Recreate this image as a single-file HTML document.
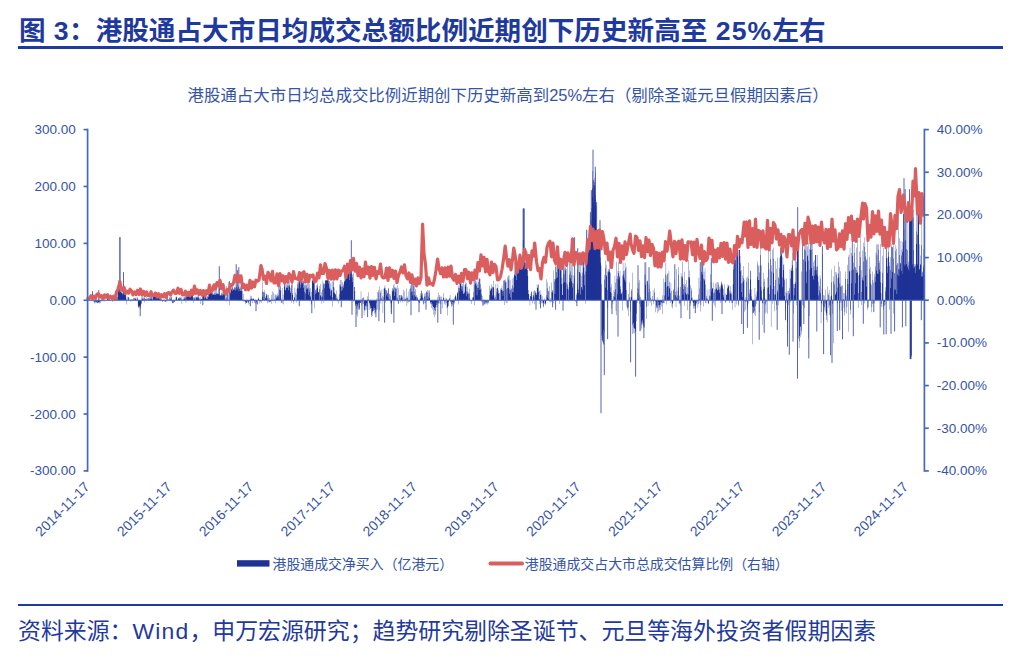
<!DOCTYPE html>
<html lang="zh-CN"><head><meta charset="utf-8"><title>图 3</title>
<style>
html,body{margin:0;padding:0;background:#fff;}
body{width:1024px;height:658px;position:relative;overflow:hidden;font-family:"Liberation Sans","Noto Sans CJK SC",sans-serif;}
.title{position:absolute;left:19px;top:11px;font-size:26.6px;font-weight:bold;color:#1f3a9e;white-space:nowrap;line-height:40px;letter-spacing:0px;}
.rule{position:absolute;left:18px;width:985px;background:#1f3a9e;}
.sub{position:absolute;left:187.5px;top:84.2px;font-size:16.45px;color:#3454a8;white-space:nowrap;line-height:22px;letter-spacing:0;}
.leg{position:absolute;top:552.7px;font-size:13.9px;color:#3454a8;white-space:nowrap;line-height:22px;}
.foot{position:absolute;left:18px;top:613px;font-size:22.9px;color:#1f3a9e;white-space:nowrap;line-height:36px;}
</style></head><body>
<div class="title">图<span style="letter-spacing:0.65px"> 3</span>：港股通占大市日均成交总额比例近期创下历史新高至<span style="letter-spacing:1.1px"> 25%</span>左右</div>
<div class="rule" style="top:46.4px;height:2.8px"></div>
<div class="sub">港股通占大市日均总成交比例近期创下历史新高到25%左右（剔除圣诞元旦假期因素后）</div>
<svg width="1024" height="658" viewBox="0 0 1024 658" style="position:absolute;left:0;top:0">
<path d="M88.00 300.2V300.2H88.34V300.0H88.67V299.3H89.01V300.8H89.35V299.7H89.69V300.7H90.02V300.7H90.36V300.3H90.70V300.1H91.04V299.9H91.37V299.5H91.71V299.9H92.05V299.1H92.38V300.5H92.72V299.3H93.06V300.3H93.40V301.9H93.73V299.9H94.07V301.4H94.41V302.4H94.75V303.7H95.08V302.7H95.42V301.2H95.76V301.8H96.09V302.8H96.43V301.4H96.77V302.7H97.11V301.3H97.44V302.9H97.78V303.3H98.12V302.4H98.46V302.6H98.79V302.7H99.13V303.4H99.47V301.7H99.80V301.1H100.14V303.0H100.48V300.7H100.82V301.8H101.15V299.7H101.49V301.0H101.83V301.2H102.16V300.8H102.50V301.0H102.84V301.1H103.18V300.8H103.51V301.1H103.85V301.8H104.19V298.8H104.53V300.3H104.86V300.2H105.20V299.9H105.54V301.2H105.87V300.9H106.21V300.4H106.55V300.2H106.89V299.4H107.22V297.0H107.56V298.3H107.90V297.6H108.24V297.4H108.57V300.5H108.91V298.7H109.25V300.9H109.58V299.2H109.92V300.3H110.26V300.1H110.60V300.6H110.93V300.2H111.27V301.1H111.61V299.2H111.95V301.1H112.28V301.7H112.62V300.5H112.96V299.8H113.29V300.6H113.63V298.5H113.97V300.7H114.31V300.8H114.64V299.1H114.98V300.6H115.32V300.5H115.66V300.2H115.99V297.2H116.33V297.5H116.67V300.9H117.00V297.1H117.34V300.1H117.68V291.8H118.02V285.0H118.35V288.4H118.69V280.4H119.03V288.4H119.37V292.6H119.70V281.1H120.04V288.3H120.38V292.2H120.71V292.1H121.05V290.5H121.39V292.5H121.73V293.0H122.06V293.8H122.40V292.2H122.74V294.5H123.07V292.9H123.41V294.6H123.75V292.3H124.09V290.7H124.42V292.7H124.76V294.4H125.10V293.2H125.44V292.6H125.77V293.4H126.11V304.4H126.45V298.5H126.78V300.8H127.12V300.3H127.46V296.5H127.80V300.3H128.13V297.5H128.47V296.7H128.81V297.2H129.15V300.2H129.48V300.4H129.82V300.4H130.16V298.9H130.49V301.5H130.83V301.2H131.17V300.3H131.51V299.1H131.84V300.4H132.18V300.6H132.52V299.1H132.86V300.5H133.19V298.1H133.53V299.8H133.87V297.6H134.20V298.3H134.54V299.9H134.88V298.6H135.22V297.7H135.55V298.9H135.89V297.6H136.23V300.9H136.57V299.4H136.90V299.7H137.24V298.4H137.58V297.1H137.91V305.7H138.25V306.2H138.59V307.0H138.93V307.6H139.26V305.7H139.60V306.0H139.94V305.5H140.28V306.8H140.61V308.9H140.95V303.6H141.29V294.6H141.62V303.9H141.96V299.0H142.30V298.6H142.64V295.0H142.97V298.8H143.31V297.3H143.65V301.1H143.98V302.6H144.32V297.8H144.66V297.4H145.00V298.7H145.33V299.6H145.67V299.0H146.01V300.5H146.35V297.0H146.68V299.3H147.02V300.3H147.36V299.0H147.69V298.1H148.03V298.5H148.37V297.9H148.71V300.8H149.04V298.8H149.38V295.3H149.72V299.8H150.06V299.1H150.39V297.3H150.73V295.9H151.07V295.7H151.40V299.0H151.74V296.2H152.08V300.3H152.42V298.7H152.75V295.5H153.09V297.1H153.43V294.8H153.77V293.7H154.10V293.7H154.44V293.7H154.78V296.4H155.11V294.7H155.45V297.0H155.79V295.4H156.13V296.1H156.46V294.8H156.80V293.7H157.14V293.7H157.48V295.3H157.81V297.3H158.15V293.8H158.49V295.7H158.82V294.3H159.16V293.7H159.50V297.6H159.84V298.1H160.17V300.7H160.51V294.8H160.85V296.7H161.19V298.8H161.52V300.7H161.86V299.9H162.20V302.1H162.53V301.4H162.87V300.7H163.21V300.7H163.55V301.1H163.88V298.6H164.22V301.6H164.56V300.5H164.89V301.6H165.23V302.2H165.57V300.5H165.91V302.1H166.24V297.9H166.58V300.8H166.92V294.7H167.26V300.7H167.59V297.2H167.93V300.2H168.27V300.3H168.60V299.2H168.94V298.6H169.28V300.6H169.62V296.7H169.95V299.7H170.29V298.4H170.63V296.6H170.97V296.3H171.30V301.5H171.64V297.3H171.98V300.5H172.31V303.1H172.65V303.6H172.99V303.0H173.33V302.4H173.66V301.0H174.00V302.1H174.34V301.9H174.68V300.9H175.01V297.6H175.35V300.4H175.69V300.4H176.02V296.3H176.36V297.1H176.70V297.5H177.04V299.6H177.37V300.4H177.71V300.4H178.05V298.1H178.39V298.9H178.72V298.0H179.06V297.5H179.40V299.3H179.73V297.3H180.07V297.8H180.41V300.3H180.75V296.8H181.08V297.3H181.42V299.6H181.76V303.9H182.09V300.2H182.43V299.8H182.77V299.1H183.11V298.8H183.44V300.1H183.78V296.8H184.12V297.6H184.46V298.9H184.79V295.6H185.13V293.5H185.47V298.0H185.80V302.7H186.14V294.6H186.48V293.4H186.82V296.5H187.15V293.4H187.49V294.6H187.83V295.2H188.17V295.7H188.50V294.7H188.84V295.7H189.18V294.6H189.51V293.4H189.85V295.6H190.19V297.0H190.53V294.8H190.86V293.4H191.20V293.4H191.54V296.3H191.88V293.4H192.21V295.6H192.55V293.6H192.89V297.9H193.22V302.8H193.56V297.1H193.90V299.6H194.24V298.0H194.57V296.5H194.91V299.4H195.25V300.4H195.59V296.7H195.92V297.2H196.26V296.4H196.60V297.7H196.93V296.9H197.27V295.7H197.61V298.3H197.95V298.5H198.28V296.8H198.62V295.0H198.96V297.4H199.30V300.3H199.63V298.7H199.97V299.1H200.31V304.0H200.64V297.3H200.98V299.6H201.32V299.0H201.66V298.4H201.99V299.0H202.33V295.8H202.67V296.7H203.01V293.3H203.34V293.3H203.68V295.3H204.02V296.6H204.35V297.2H204.69V299.3H205.03V296.3H205.37V295.5H205.70V293.9H206.04V297.3H206.38V298.5H206.71V299.1H207.05V299.0H207.39V296.4H207.73V296.1H208.06V293.2H208.40V297.1H208.74V292.2H209.08V294.1H209.41V293.2H209.75V294.0H210.09V292.9H210.42V286.5H210.76V287.3H211.10V290.4H211.44V292.7H211.77V293.4H212.11V295.0H212.45V293.0H212.79V290.1H213.12V294.5H213.46V293.7H213.80V294.7H214.13V294.7H214.47V289.9H214.81V293.0H215.15V285.9H215.48V294.8H215.82V294.6H216.16V289.7H216.50V294.1H216.83V292.8H217.17V294.2H217.51V293.3H217.84V293.4H218.18V294.3H218.52V286.7H218.86V294.3H219.19V288.2H219.53V295.4H219.87V295.4H220.21V295.3H220.54V295.5H220.88V294.4H221.22V295.3H221.55V292.8H221.89V289.2H222.23V295.7H222.57V293.7H222.90V293.6H223.24V292.9H223.58V295.0H223.91V294.0H224.25V292.2H224.59V294.4H224.93V300.3H225.26V298.7H225.60V290.7H225.94V301.7H226.28V297.3H226.61V285.9H226.95V300.4H227.29V293.4H227.62V288.3H227.96V300.6H228.30V282.0H228.64V299.7H228.97V281.2H229.31V280.7H229.65V305.0H229.99V292.0H230.32V290.3H230.66V293.5H231.00V289.0H231.33V290.1H231.67V287.6H232.01V287.1H232.35V287.5H232.68V290.9H233.02V290.1H233.36V288.4H233.70V289.2H234.03V287.5H234.37V289.7H234.71V286.9H235.04V290.7H235.38V288.4H235.72V287.6H236.06V286.5H236.39V289.9H236.73V287.1H237.07V288.6H237.41V288.4H237.74V290.5H238.08V287.1H238.42V291.6H238.75V286.5H239.09V288.8H239.43V288.7H239.77V291.0H240.10V286.5H240.44V291.1H240.78V287.4H241.12V287.8H241.45V291.0H241.79V284.5H242.13V290.9H242.46V299.5H242.80V301.1H243.14V293.9H243.48V300.0H243.81V301.9H244.15V299.9H244.49V300.8H244.82V301.6H245.16V302.3H245.50V304.2H245.84V301.5H246.17V303.2H246.51V302.7H246.85V303.1H247.19V300.7H247.52V301.8H247.86V301.1H248.20V303.5H248.53V302.3H248.87V304.8H249.21V301.0H249.55V300.9H249.88V300.9H250.22V295.6H250.56V299.2H250.90V298.5H251.23V296.1H251.57V298.9H251.91V298.1H252.24V299.0H252.58V303.3H252.92V298.9H253.26V298.5H253.59V298.6H253.93V300.9H254.27V302.9H254.61V301.6H254.94V299.5H255.28V301.0H255.62V303.6H255.95V300.4H256.29V301.8H256.63V303.5H256.97V304.8H257.30V304.2H257.64V300.3H257.98V298.4H258.32V298.8H258.65V297.3H258.99V299.9H259.33V303.4H259.66V300.8H260.00V301.3H260.34V301.5H260.68V301.3H261.01V302.9H261.35V300.4H261.69V300.6H262.03V291.3H262.36V281.3H262.70V296.7H263.04V299.6H263.37V291.9H263.71V292.1H264.05V292.4H264.39V300.8H264.72V289.8H265.06V298.0H265.40V298.5H265.73V296.2H266.07V295.5H266.41V293.8H266.75V294.1H267.08V298.0H267.42V303.2H267.76V295.3H268.10V294.8H268.43V301.4H268.77V302.4H269.11V297.9H269.44V302.2H269.78V302.2H270.12V301.4H270.46V301.4H270.79V301.1H271.13V294.8H271.47V303.8H271.81V298.7H272.14V291.4H272.48V300.8H272.82V300.5H273.15V299.9H273.49V292.6H273.83V301.6H274.17V298.7H274.50V300.2H274.84V294.1H275.18V303.3H275.52V295.2H275.85V298.8H276.19V295.0H276.53V296.7H276.86V298.2H277.20V295.8H277.54V293.4H277.88V296.7H278.21V282.8H278.55V295.3H278.89V299.2H279.23V283.5H279.56V289.5H279.90V283.1H280.24V290.6H280.57V286.4H280.91V303.0H281.25V298.5H281.59V302.8H281.92V288.1H282.26V303.4H282.60V300.5H282.94V294.5H283.27V300.7H283.61V304.4H283.95V281.0H284.28V286.7H284.62V281.0H284.96V284.1H285.30V290.3H285.63V290.3H285.97V287.9H286.31V284.0H286.64V287.2H286.98V285.7H287.32V288.1H287.66V282.6H287.99V283.0H288.33V290.3H288.67V285.8H289.01V280.9H289.34V286.8H289.68V285.1H290.02V291.4H290.35V293.1H290.69V287.8H291.03V285.2H291.37V302.8H291.70V284.0H292.04V295.0H292.38V280.8H292.72V292.9H293.05V300.5H293.39V301.8H293.73V303.9H294.06V297.7H294.40V297.1H294.74V287.8H295.08V300.4H295.41V292.5H295.75V300.8H296.09V294.6H296.43V302.4H296.76V288.9H297.10V287.8H297.44V282.2H297.77V284.5H298.11V288.6H298.45V280.7H298.79V282.4H299.12V280.7H299.46V280.7H299.80V280.7H300.14V280.9H300.47V287.7H300.81V284.6H301.15V280.7H301.48V280.7H301.82V280.7H302.16V283.5H302.50V282.6H302.83V280.9H303.17V280.7H303.51V287.7H303.85V280.7H304.18V285.5H304.52V291.8H304.86V299.7H305.19V293.4H305.53V284.8H305.87V283.2H306.21V289.6H306.54V285.3H306.88V288.1H307.22V289.0H307.56V280.6H307.89V287.8H308.23V280.6H308.57V294.8H308.90V289.5H309.24V283.7H309.58V292.1H309.92V297.3H310.25V296.1H310.59V287.9H310.93V304.6H311.26V292.0H311.60V303.8H311.94V280.5H312.28V280.5H312.61V280.5H312.95V280.5H313.29V280.5H313.63V280.5H313.96V280.5H314.30V280.5H314.64V308.5H314.97V290.5H315.31V294.0H315.65V289.6H315.99V288.7H316.32V285.2H316.66V292.7H317.00V287.7H317.34V283.3H317.67V285.8H318.01V292.1H318.35V292.6H318.68V291.9H319.02V300.1H319.36V288.9H319.70V286.0H320.03V295.5H320.37V284.0H320.71V295.4H321.05V292.3H321.38V297.1H321.72V303.7H322.06V296.5H322.39V289.8H322.73V280.4H323.07V284.5H323.41V282.8H323.74V302.8H324.08V288.2H324.42V283.5H324.76V284.2H325.09V280.4H325.43V280.3H325.77V280.3H326.10V280.3H326.44V280.3H326.78V280.3H327.12V280.3H327.45V280.3H327.79V280.3H328.13V283.6H328.46V280.3H328.80V280.3H329.14V281.0H329.48V287.8H329.81V289.1H330.15V295.4H330.49V283.4H330.83V290.8H331.16V290.4H331.50V289.4H331.84V281.4H332.17V297.1H332.51V306.7H332.85V280.2H333.19V281.4H333.52V287.0H333.86V292.2H334.20V287.5H334.54V293.2H334.87V293.6H335.21V294.5H335.55V294.0H335.88V299.9H336.22V298.3H336.56V290.4H336.90V296.5H337.23V298.7H337.57V301.3H337.91V300.7H338.25V303.4H338.58V300.8H338.92V294.1H339.26V299.0H339.59V284.6H339.93V280.1H340.27V284.7H340.61V286.3H340.94V280.1H341.28V286.7H341.62V290.8H341.96V290.2H342.29V286.6H342.63V282.1H342.97V283.7H343.30V287.9H343.64V285.8H343.98V280.9H344.32V282.0H344.65V271.6H344.99V280.6H345.33V271.4H345.67V268.2H346.00V278.9H346.34V266.3H346.68V276.4H347.01V275.3H347.35V271.5H347.69V266.3H348.03V266.3H348.36V266.9H348.70V266.3H349.04V280.0H349.37V267.6H349.71V272.4H350.05V277.1H350.39V266.3H350.72V277.3H351.06V273.2H351.40V278.8H351.74V274.1H352.07V274.6H352.41V277.5H352.75V282.1H353.08V272.7H353.42V299.8H353.76V302.0H354.10V286.8H354.43V287.1H354.77V291.0H355.11V305.3H355.45V306.0H355.78V304.0H356.12V308.6H356.46V304.1H356.79V314.6H357.13V306.4H357.47V316.4H357.81V304.5H358.14V309.8H358.48V302.9H358.82V309.2H359.16V310.1H359.49V308.2H359.83V302.2H360.17V302.9H360.50V302.9H360.84V291.2H361.18V299.5H361.52V305.4H361.85V301.9H362.19V303.6H362.53V297.9H362.87V298.0H363.20V297.0H363.54V303.9H363.88V315.3H364.21V309.8H364.55V310.8H364.89V305.5H365.23V305.7H365.56V310.6H365.90V306.5H366.24V303.2H366.58V309.8H366.91V306.3H367.25V296.3H367.59V301.2H367.92V301.4H368.26V299.4H368.60V292.2H368.94V310.2H369.27V303.4H369.61V302.8H369.95V305.6H370.28V308.0H370.62V309.1H370.96V308.0H371.30V317.0H371.63V315.0H371.97V312.5H372.31V311.2H372.65V315.9H372.98V310.4H373.32V311.1H373.66V307.6H373.99V307.9H374.33V313.6H374.67V310.1H375.01V311.9H375.34V308.7H375.68V313.8H376.02V310.3H376.36V303.3H376.69V298.5H377.03V309.6H377.37V292.1H377.70V300.5H378.04V301.4H378.38V289.9H378.72V292.6H379.05V310.6H379.39V286.3H379.73V299.4H380.07V292.7H380.40V290.7H380.74V303.8H381.08V300.3H381.41V298.1H381.75V289.3H382.09V299.7H382.43V295.7H382.76V313.1H383.10V296.8H383.44V300.1H383.78V288.4H384.11V288.6H384.45V287.6H384.79V285.3H385.12V302.8H385.46V288.3H385.80V289.9H386.14V295.4H386.47V290.3H386.81V290.8H387.15V293.4H387.49V292.7H387.82V296.9H388.16V287.9H388.50V288.7H388.83V299.5H389.17V294.1H389.51V299.6H389.85V293.9H390.18V295.7H390.52V303.2H390.86V312.6H391.19V307.4H391.53V303.6H391.87V290.4H392.21V291.6H392.54V288.0H392.88V288.7H393.22V285.3H393.56V290.6H393.89V283.4H394.23V295.9H394.57V287.4H394.90V291.9H395.24V287.4H395.58V288.5H395.92V287.6H396.25V300.1H396.59V289.1H396.93V297.5H397.27V285.6H397.60V301.3H397.94V303.4H398.28V303.9H398.61V288.2H398.95V300.6H399.29V294.9H399.63V295.3H399.96V302.5H400.30V298.5H400.64V294.9H400.98V295.6H401.31V294.8H401.65V297.3H401.99V297.7H402.32V302.4H402.66V295.8H403.00V289.7H403.34V299.7H403.67V301.0H404.01V301.7H404.35V299.3H404.69V291.3H405.02V301.1H405.36V298.9H405.70V297.5H406.03V298.2H406.37V288.4H406.71V305.9H407.05V298.1H407.38V296.4H407.72V302.9H408.06V302.5H408.40V299.9H408.73V291.6H409.07V301.4H409.41V301.8H409.74V288.9H410.08V285.6H410.42V288.3H410.76V299.7H411.09V283.1H411.43V291.7H411.77V283.1H412.10V283.8H412.44V291.8H412.78V295.6H413.12V286.2H413.45V284.9H413.79V299.1H414.13V295.0H414.47V283.1H414.80V291.3H415.14V296.7H415.48V289.0H415.81V296.4H416.15V295.0H416.49V299.8H416.83V296.7H417.16V298.3H417.50V297.5H417.84V301.1H418.18V301.2H418.51V302.4H418.85V300.6H419.19V303.0H419.52V303.1H419.86V298.3H420.20V299.1H420.54V293.2H420.87V295.8H421.21V290.6H421.55V291.1H421.89V294.5H422.22V297.5H422.56V292.9H422.90V303.7H423.23V297.7H423.57V304.5H423.91V303.6H424.25V296.8H424.58V293.8H424.92V296.0H425.26V303.0H425.60V293.1H425.93V300.8H426.27V291.8H426.61V291.3H426.94V292.4H427.28V290.0H427.62V299.3H427.96V296.2H428.29V299.5H428.63V290.4H428.97V292.6H429.31V290.3H429.64V297.9H429.98V302.1H430.32V303.1H430.65V304.2H430.99V302.1H431.33V304.0H431.67V307.9H432.00V303.7H432.34V305.9H432.68V309.7H433.01V307.0H433.35V307.3H433.69V314.4H434.03V309.9H434.36V317.0H434.70V308.0H435.04V310.8H435.38V314.6H435.71V306.7H436.05V305.0H436.39V307.4H436.72V302.3H437.06V303.6H437.40V296.8H437.74V306.8H438.07V303.4H438.41V292.7H438.75V303.2H439.09V296.9H439.42V294.9H439.76V303.8H440.10V300.7H440.43V296.4H440.77V304.1H441.11V299.8H441.45V296.4H441.78V300.4H442.12V308.2H442.46V301.1H442.80V301.1H443.13V293.1H443.47V297.6H443.81V298.1H444.14V301.6H444.48V304.2H444.82V301.5H445.16V304.8H445.49V300.7H445.83V297.7H446.17V298.6H446.51V303.2H446.84V308.3H447.18V315.6H447.52V307.2H447.85V306.4H448.19V306.0H448.53V302.3H448.87V300.7H449.20V297.8H449.54V298.7H449.88V294.9H450.22V301.6H450.55V302.4H450.89V299.9H451.23V306.9H451.56V304.3H451.90V305.9H452.24V301.9H452.58V304.4H452.91V298.9H453.25V302.9H453.59V301.7H453.92V304.6H454.26V297.5H454.60V302.8H454.94V296.6H455.27V295.8H455.61V294.5H455.95V296.7H456.29V300.1H456.62V299.5H456.96V292.8H457.30V292.1H457.63V293.7H457.97V288.1H458.31V285.5H458.65V304.6H458.98V291.3H459.32V278.6H459.66V288.1H460.00V278.6H460.33V278.6H460.67V283.8H461.01V289.6H461.34V285.9H461.68V278.5H462.02V286.4H462.36V284.1H462.69V291.0H463.03V293.5H463.37V278.4H463.71V294.0H464.04V293.3H464.38V291.7H464.72V285.3H465.05V284.1H465.39V282.2H465.73V286.4H466.07V296.2H466.40V283.0H466.74V291.6H467.08V286.9H467.42V293.7H467.75V291.6H468.09V294.1H468.43V292.5H468.76V299.5H469.10V293.4H469.44V288.7H469.78V298.1H470.11V300.7H470.45V301.3H470.79V300.4H471.13V303.9H471.46V300.5H471.80V301.3H472.14V300.7H472.47V297.0H472.81V297.9H473.15V292.0H473.49V297.1H473.82V277.9H474.16V305.3H474.50V277.9H474.83V284.8H475.17V283.5H475.51V277.9H475.85V280.8H476.18V285.7H476.52V282.7H476.86V295.2H477.20V284.2H477.53V288.1H477.87V277.8H478.21V287.8H478.54V282.1H478.88V289.9H479.22V279.3H479.56V277.7H479.89V278.8H480.23V284.3H480.57V289.5H480.91V302.3H481.24V288.6H481.58V294.2H481.92V295.9H482.25V300.4H482.59V301.9H482.93V301.0H483.27V304.9H483.60V299.8H483.94V303.8H484.28V304.6H484.62V300.7H484.95V304.6H485.29V301.3H485.63V303.1H485.96V304.1H486.30V302.4H486.64V301.4H486.98V304.4H487.31V300.4H487.65V303.0H487.99V300.4H488.33V302.3H488.66V303.2H489.00V300.1H489.34V295.0H489.67V286.0H490.01V288.6H490.35V290.2H490.69V291.0H491.02V289.1H491.36V284.3H491.70V288.1H492.04V286.5H492.37V295.6H492.71V287.2H493.05V287.8H493.38V280.8H493.72V287.0H494.06V298.1H494.40V295.2H494.73V300.9H495.07V296.8H495.41V299.7H495.74V283.8H496.08V288.4H496.42V299.5H496.76V292.5H497.09V288.1H497.43V288.2H497.77V283.5H498.11V290.2H498.44V294.0H498.78V292.9H499.12V292.9H499.45V301.1H499.79V300.4H500.13V288.6H500.47V300.8H500.80V290.3H501.14V290.1H501.48V287.9H501.82V285.4H502.15V291.3H502.49V289.5H502.83V295.7H503.16V290.9H503.50V280.8H503.84V280.2H504.18V280.1H504.51V305.1H504.85V281.3H505.19V282.6H505.53V279.2H505.86V303.0H506.20V282.0H506.54V289.2H506.87V303.3H507.21V287.9H507.55V276.7H507.89V287.9H508.22V275.8H508.56V279.6H508.90V275.0H509.24V293.8H509.57V289.2H509.91V280.3H510.25V297.2H510.58V289.9H510.92V288.1H511.26V300.6H511.60V289.2H511.93V278.6H512.27V292.1H512.61V285.2H512.95V292.5H513.28V287.6H513.62V277.4H513.96V275.4H514.29V262.5H514.63V274.6H514.97V268.1H515.31V262.5H515.64V275.9H515.98V280.0H516.32V266.3H516.65V262.5H516.99V262.5H517.33V262.5H517.67V262.5H518.00V267.6H518.34V273.3H518.68V262.5H519.02V262.5H519.35V262.5H519.69V262.5H520.03V269.7H520.36V262.5H520.70V262.5H521.04V262.5H521.38V262.5H521.71V262.5H522.05V262.5H522.39V262.5H522.73V262.5H523.06V262.5H523.40V266.3H523.74V262.5H524.07V270.1H524.41V262.5H524.75V262.5H525.09V269.0H525.42V262.5H525.76V262.5H526.10V262.5H526.44V262.5H526.77V262.5H527.11V269.8H527.45V269.5H527.78V276.0H528.12V289.9H528.46V294.0H528.80V294.3H529.13V298.4H529.47V300.4H529.81V305.3H530.15V296.0H530.48V296.0H530.82V293.4H531.16V291.9H531.49V291.1H531.83V297.0H532.17V300.9H532.51V303.4H532.84V295.0H533.18V295.6H533.52V291.3H533.86V297.3H534.19V304.3H534.53V289.9H534.87V291.3H535.20V291.6H535.54V292.9H535.88V294.8H536.22V293.1H536.55V295.1H536.89V284.5H537.23V287.9H537.57V287.4H537.90V284.4H538.24V284.4H538.58V291.9H538.91V299.0H539.25V290.9H539.59V304.3H539.93V289.9H540.26V294.3H540.60V295.0H540.94V300.4H541.27V294.6H541.61V303.2H541.95V296.3H542.29V303.4H542.62V301.6H542.96V303.0H543.30V306.5H543.64V307.2H543.97V301.1H544.31V304.0H544.65V298.3H544.98V303.8H545.32V303.2H545.66V305.3H546.00V301.3H546.33V295.3H546.67V279.2H547.01V282.5H547.35V288.3H547.68V297.5H548.02V299.1H548.36V291.3H548.69V290.8H549.03V302.1H549.37V286.1H549.71V300.2H550.04V302.5H550.38V297.9H550.72V300.0H551.06V301.8H551.39V282.5H551.73V291.9H552.07V290.0H552.40V292.3H552.74V290.4H553.08V300.4H553.42V270.7H553.75V303.4H554.09V279.0H554.43V281.4H554.77V293.8H555.10V279.3H555.44V266.8H555.78V259.6H556.11V278.2H556.45V272.0H556.79V265.9H557.13V277.4H557.46V264.7H557.80V258.7H558.14V262.2H558.47V268.9H558.81V258.6H559.15V304.0H559.49V258.5H559.82V258.5H560.16V258.7H560.50V269.9H560.84V270.5H561.17V267.4H561.51V284.2H561.85V277.7H562.18V294.9H562.52V294.9H562.86V283.3H563.20V269.3H563.53V258.0H563.87V274.2H564.21V257.9H564.55V282.2H564.88V268.6H565.22V266.4H565.56V270.5H565.89V282.7H566.23V300.5H566.57V268.9H566.91V288.9H567.24V257.5H567.58V284.6H567.92V287.2H568.26V301.5H568.59V289.8H568.93V282.3H569.27V257.5H569.60V274.7H569.94V261.8H570.28V278.2H570.62V271.6H570.95V257.5H571.29V275.2H571.63V281.3H571.97V262.9H572.30V283.1H572.64V287.4H572.98V275.3H573.31V300.5H573.65V283.4H573.99V300.8H574.33V278.8H574.66V275.8H575.00V300.6H575.34V300.6H575.68V302.1H576.01V295.0H576.35V303.0H576.69V293.2H577.02V270.1H577.36V284.2H577.70V289.8H578.04V289.6H578.37V257.5H578.71V293.0H579.05V272.1H579.38V271.9H579.72V261.2H580.06V294.4H580.40V273.5H580.73V257.5H581.07V287.6H581.41V287.1H581.75V276.0H582.08V289.8H582.42V272.6H582.76V262.5H583.09V257.5H583.43V260.4H583.77V267.7H584.11V274.4H584.44V285.2H584.78V260.7H585.12V303.7H585.46V252.9H585.79V271.4H586.13V229.8H586.47V229.8H586.80V243.9H587.14V238.5H587.48V243.2H587.82V229.8H588.15V252.5H588.49V249.9H588.83V233.7H589.17V229.8H589.50V229.8H589.84V229.8H590.18V229.8H590.51V229.8H590.85V219.7H591.19V229.8H591.53V207.7H591.86V190.3H592.20V196.5H592.54V170.9H592.88V198.1H593.21V204.1H593.55V202.1H593.89V216.5H594.22V178.0H594.56V182.2H594.90V194.8H595.24V172.7H595.57V199.5H595.91V205.9H596.25V229.8H596.59V229.8H596.92V229.8H597.26V229.8H597.60V229.8H597.93V229.8H598.27V229.8H598.61V229.8H598.95V231.5H599.28V236.6H599.62V241.7H599.96V250.1H600.30V257.2H600.63V263.0H600.97V265.4H601.31V284.2H601.64V335.7H601.98V333.4H602.32V337.6H602.66V341.0H602.99V344.6H603.33V344.3H603.67V329.4H604.00V331.8H604.34V275.0H604.68V279.4H605.02V260.4H605.35V287.7H605.69V268.1H606.03V276.5H606.37V275.1H606.70V264.7H607.04V271.5H607.38V290.0H607.71V307.9H608.05V272.3H608.39V269.0H608.73V270.7H609.06V269.5H609.40V260.9H609.74V272.1H610.08V272.8H610.41V291.9H610.75V287.4H611.09V284.3H611.42V308.4H611.76V293.3H612.10V300.6H612.44V301.9H612.77V304.2H613.11V295.9H613.45V300.3H613.79V289.9H614.12V297.0H614.46V291.9H614.80V275.8H615.13V282.5H615.47V289.2H615.81V310.9H616.15V261.6H616.48V315.3H616.82V279.1H617.16V276.2H617.50V294.2H617.83V270.9H618.17V261.9H618.51V272.9H618.84V279.2H619.18V275.6H619.52V277.0H619.86V270.8H620.19V286.2H620.53V289.0H620.87V294.3H621.21V293.7H621.54V293.0H621.88V291.8H622.22V310.4H622.55V275.8H622.89V262.4H623.23V271.1H623.57V274.6H623.90V277.4H624.24V270.7H624.58V279.8H624.91V263.0H625.25V281.7H625.59V268.4H625.93V266.7H626.26V306.6H626.60V289.9H626.94V300.4H627.28V307.9H627.61V310.2H627.95V307.4H628.29V294.1H628.62V316.2H628.96V297.1H629.30V282.4H629.64V301.6H629.97V301.6H630.31V297.2H630.65V311.5H630.99V297.1H631.32V290.8H631.66V289.1H632.00V272.8H632.33V334.0H632.67V324.8H633.01V322.9H633.35V332.9H633.68V327.4H634.02V328.9H634.36V327.9H634.70V333.5H635.03V329.2H635.37V331.1H635.71V332.0H636.04V321.2H636.38V313.8H636.72V301.3H637.06V287.9H637.39V303.0H637.73V292.9H638.07V289.1H638.41V298.4H638.74V282.8H639.08V280.1H639.42V303.9H639.75V295.3H640.09V297.0H640.43V306.7H640.77V330.4H641.10V328.4H641.44V324.4H641.78V321.4H642.12V323.2H642.45V319.8H642.79V325.5H643.13V326.2H643.46V323.5H643.80V327.7H644.14V327.4H644.48V262.3H644.81V274.6H645.15V262.2H645.49V284.7H645.82V262.2H646.16V319.1H646.50V306.9H646.84V281.8H647.17V280.6H647.51V281.0H647.85V306.0H648.19V292.4H648.52V300.8H648.86V284.5H649.20V300.2H649.53V288.7H649.87V303.3H650.21V297.8H650.55V291.2H650.88V301.1H651.22V299.4H651.56V306.1H651.90V301.1H652.23V295.9H652.57V300.5H652.91V290.3H653.24V304.2H653.58V301.4H653.92V300.8H654.26V288.5H654.59V292.6H654.93V301.4H655.27V312.2H655.61V300.9H655.94V305.2H656.28V308.5H656.62V307.3H656.95V297.2H657.29V313.2H657.63V307.5H657.97V301.9H658.30V305.2H658.64V311.4H658.98V310.2H659.32V307.8H659.65V305.0H659.99V310.0H660.33V301.6H660.66V304.8H661.00V302.4H661.34V302.3H661.68V306.5H662.01V314.1H662.35V303.3H662.69V295.3H663.02V303.2H663.36V303.1H663.70V278.4H664.04V303.3H664.37V282.2H664.71V295.4H665.05V281.9H665.39V274.6H665.72V262.5H666.06V304.5H666.40V275.8H666.73V287.3H667.07V274.1H667.41V285.9H667.75V273.3H668.08V296.8H668.42V286.1H668.76V270.8H669.10V281.7H669.43V287.8H669.77V288.8H670.11V292.9H670.44V302.9H670.78V283.0H671.12V301.6H671.46V290.9H671.79V307.0H672.13V303.9H672.47V308.4H672.81V302.9H673.14V290.4H673.48V289.0H673.82V299.8H674.15V300.3H674.49V279.5H674.83V295.1H675.17V292.0H675.50V295.3H675.84V307.2H676.18V297.2H676.52V268.9H676.85V291.1H677.19V299.0H677.53V295.5H677.86V287.4H678.20V267.0H678.54V274.8H678.88V303.6H679.21V303.6H679.55V295.5H679.89V305.5H680.23V302.9H680.56V287.0H680.90V273.3H681.24V299.7H681.57V276.7H681.91V276.0H682.25V278.1H682.59V261.7H682.92V294.5H683.26V288.9H683.60V284.0H683.93V285.5H684.27V271.6H684.61V305.8H684.95V286.8H685.28V292.8H685.62V284.0H685.96V294.1H686.30V280.0H686.63V294.9H686.97V293.6H687.31V310.3H687.64V287.3H687.98V294.5H688.32V277.1H688.66V260.0H688.99V278.4H689.33V276.9H689.67V270.6H690.01V285.3H690.34V305.7H690.68V303.3H691.02V287.7H691.35V290.4H691.69V298.0H692.03V301.2H692.37V297.5H692.70V302.0H693.04V308.7H693.38V302.9H693.72V306.1H694.05V301.8H694.39V306.0H694.73V308.3H695.06V305.4H695.40V308.8H695.74V305.6H696.08V302.9H696.41V300.7H696.75V304.2H697.09V301.5H697.43V299.8H697.76V307.8H698.10V303.9H698.44V294.7H698.77V277.8H699.11V299.1H699.45V288.6H699.79V302.9H700.12V281.0H700.46V311.4H700.80V305.2H701.14V261.0H701.47V272.1H701.81V258.5H702.15V274.5H702.48V264.6H702.82V258.4H703.16V306.5H703.50V278.4H703.83V271.8H704.17V280.5H704.51V279.2H704.85V268.2H705.18V284.5H705.52V302.9H705.86V303.3H706.19V298.2H706.53V295.7H706.87V289.7H707.21V300.0H707.54V298.3H707.88V303.1H708.22V303.6H708.55V304.3H708.89V289.0H709.23V295.4H709.57V300.6H709.90V296.2H710.24V300.5H710.58V274.2H710.92V282.6H711.25V289.9H711.59V292.1H711.93V288.7H712.26V287.9H712.60V288.2H712.94V282.6H713.28V303.2H713.61V293.3H713.95V305.4H714.29V292.4H714.63V289.3H714.96V283.6H715.30V307.4H715.64V289.5H715.97V282.2H716.31V287.8H716.65V289.1H716.99V290.6H717.32V289.9H717.66V282.0H718.00V289.6H718.34V282.5H718.67V284.8H719.01V293.1H719.35V286.7H719.68V289.6H720.02V302.8H720.36V285.7H720.70V288.4H721.03V282.5H721.37V281.5H721.71V284.4H722.05V283.7H722.38V285.6H722.72V287.6H723.06V295.1H723.39V289.2H723.73V297.3H724.07V300.3H724.41V284.3H724.74V300.4H725.08V302.7H725.42V293.6H725.75V302.4H726.09V295.1H726.43V294.8H726.77V294.4H727.10V288.5H727.44V287.7H727.78V284.6H728.12V286.8H728.45V285.4H728.79V285.3H729.13V290.8H729.46V303.0H729.80V293.4H730.14V293.4H730.48V285.9H730.81V291.2H731.15V294.2H731.49V302.9H731.83V292.7H732.16V303.1H732.50V309.7H732.84V284.4H733.17V265.3H733.51V269.5H733.85V249.9H734.19V249.9H734.52V254.6H734.86V307.6H735.20V260.3H735.54V249.9H735.87V249.9H736.21V249.9H736.55V304.5H736.88V249.9H737.22V249.9H737.56V249.9H737.90V249.9H738.23V306.2H738.57V304.5H738.91V249.9H739.25V249.9H739.58V249.9H739.92V255.7H740.26V271.2H740.59V263.2H740.93V283.4H741.27V291.9H741.61V269.9H741.94V282.7H742.28V297.2H742.62V275.4H742.96V281.2H743.29V266.1H743.63V278.1H743.97V279.8H744.30V311.8H744.64V301.1H744.98V301.9H745.32V297.3H745.65V309.9H745.99V301.8H746.33V277.8H746.67V281.8H747.00V305.7H747.34V308.4H747.68V276.5H748.01V303.4H748.35V278.7H748.69V262.8H749.03V301.2H749.36V293.4H749.70V289.5H750.04V271.1H750.37V279.6H750.71V270.4H751.05V289.4H751.39V298.8H751.72V296.2H752.06V306.5H752.40V344.2H752.74V313.2H753.07V313.0H753.41V312.4H753.75V307.3H754.08V311.2H754.42V314.3H754.76V287.9H755.10V316.0H755.43V306.2H755.77V294.3H756.11V296.7H756.45V303.9H756.78V291.6H757.12V261.2H757.46V276.8H757.79V264.6H758.13V280.0H758.47V266.2H758.81V279.9H759.14V312.3H759.48V272.5H759.82V265.5H760.16V247.4H760.49V254.9H760.83V286.8H761.17V265.3H761.50V290.5H761.84V298.1H762.18V303.1H762.52V324.8H762.85V303.7H763.19V272.8H763.53V288.9H763.87V281.4H764.20V287.1H764.54V278.9H764.88V313.5H765.21V298.7H765.55V304.4H765.89V312.6H766.23V302.1H766.56V300.2H766.90V288.3H767.24V277.4H767.57V313.8H767.91V287.2H768.25V250.3H768.59V262.7H768.92V269.2H769.26V294.0H769.60V301.6H769.94V285.4H770.27V259.1H770.61V247.4H770.95V327.0H771.28V271.5H771.62V265.2H771.96V288.9H772.30V303.7H772.63V249.6H772.97V247.4H773.31V272.8H773.65V258.4H773.98V285.9H774.32V294.5H774.66V311.3H774.99V280.1H775.33V294.6H775.67V261.1H776.01V268.8H776.34V304.9H776.68V310.1H777.02V257.5H777.36V290.2H777.69V292.6H778.03V305.6H778.37V276.9H778.70V278.2H779.04V284.2H779.38V267.9H779.72V258.0H780.05V247.4H780.39V256.2H780.73V247.4H781.07V253.6H781.40V247.4H781.74V255.4H782.08V287.3H782.41V277.6H782.75V257.2H783.09V264.8H783.43V270.1H783.76V264.3H784.10V295.8H784.44V280.2H784.78V278.3H785.11V310.0H785.45V300.2H785.79V292.3H786.12V278.8H786.46V302.9H786.80V293.0H787.14V322.1H787.47V332.9H787.81V291.1H788.15V305.1H788.49V290.7H788.82V294.6H789.16V293.4H789.50V288.2H789.83V268.8H790.17V278.5H790.51V302.4H790.85V270.6H791.18V270.8H791.52V268.0H791.86V260.2H792.19V253.1H792.53V265.2H792.87V270.7H793.21V284.3H793.54V313.5H793.88V295.2H794.22V287.9H794.56V284.0H794.89V282.1H795.23V251.4H795.57V283.8H795.90V268.0H796.24V305.2H796.58V261.6H796.92V242.4H797.25V242.4H797.59V242.4H797.93V242.4H798.27V242.4H798.60V338.4H798.94V348.1H799.28V336.1H799.61V341.3H799.95V326.4H800.29V337.3H800.63V326.8H800.96V334.6H801.30V330.7H801.64V271.4H801.98V242.4H802.31V245.3H802.65V305.0H802.99V260.0H803.32V306.3H803.66V259.1H804.00V249.4H804.34V308.0H804.67V242.4H805.01V242.4H805.35V261.4H805.69V250.4H806.02V283.2H806.36V271.5H806.70V242.4H807.03V246.3H807.37V256.3H807.71V255.2H808.05V260.6H808.38V338.5H808.72V242.4H809.06V249.3H809.39V315.9H809.73V269.7H810.07V249.8H810.41V242.4H810.74V242.4H811.08V268.0H811.42V242.4H811.76V249.7H812.09V275.8H812.43V242.4H812.77V276.1H813.10V279.4H813.44V262.0H813.78V266.6H814.12V275.5H814.45V260.3H814.79V270.3H815.13V255.0H815.47V254.9H815.80V254.9H816.14V266.8H816.48V270.0H816.81V274.4H817.15V266.4H817.49V254.9H817.83V276.5H818.16V295.6H818.50V281.8H818.84V301.1H819.18V286.1H819.51V290.5H819.85V275.2H820.19V278.4H820.52V293.2H820.86V323.3H821.20V312.1H821.54V303.6H821.87V288.7H822.21V254.9H822.55V300.3H822.89V305.9H823.22V320.5H823.56V295.1H823.90V309.6H824.23V295.6H824.57V306.9H824.91V311.4H825.25V289.5H825.58V303.4H825.92V312.9H826.26V315.2H826.60V320.1H826.93V322.6H827.27V300.6H827.61V286.6H827.94V293.2H828.28V295.1H828.62V307.7H828.96V290.0H829.29V315.1H829.63V305.4H829.97V296.4H830.31V304.4H830.64V316.4H830.98V295.8H831.32V282.3H831.65V269.5H831.99V303.9H832.33V299.2H832.67V314.0H833.00V281.5H833.34V343.3H833.68V276.6H834.01V300.2H834.35V265.8H834.69V284.5H835.03V294.2H835.36V294.4H835.70V271.7H836.04V274.8H836.38V291.9H836.71V272.6H837.05V303.3H837.39V287.4H837.72V278.2H838.06V273.6H838.40V261.7H838.74V277.6H839.07V309.4H839.41V266.7H839.75V283.2H840.09V286.7H840.42V271.2H840.76V302.9H841.10V310.8H841.43V286.3H841.77V285.2H842.11V285.4H842.45V301.7H842.78V299.6H843.12V299.1H843.46V293.0H843.80V307.8H844.13V315.4H844.47V293.2H844.81V312.3H845.14V271.6H845.48V279.0H845.82V289.8H846.16V295.8H846.49V313.4H846.83V307.0H847.17V279.0H847.51V264.8H847.84V284.0H848.18V331.7H848.52V256.8H848.85V254.7H849.19V270.8H849.53V271.4H849.87V247.8H850.20V314.6H850.54V309.8H850.88V270.4H851.22V283.3H851.55V253.0H851.89V238.8H852.23V255.7H852.56V239.1H852.90V318.0H853.24V269.4H853.58V262.5H853.91V244.1H854.25V294.7H854.59V252.7H854.92V266.8H855.26V283.2H855.60V267.4H855.94V270.0H856.27V247.5H856.61V273.0H856.95V273.1H857.29V271.9H857.62V239.8H857.96V308.0H858.30V293.1H858.63V275.4H858.97V274.7H859.31V251.4H859.65V265.9H859.98V237.3H860.32V301.3H860.66V257.3H861.00V270.3H861.33V292.1H861.67V305.0H862.01V277.6H862.34V279.9H862.68V250.6H863.02V280.8H863.36V242.7H863.69V261.6H864.03V303.5H864.37V246.8H864.71V237.3H865.04V256.5H865.38V252.0H865.72V275.3H866.05V286.4H866.39V260.4H866.73V259.0H867.07V242.1H867.40V309.7H867.74V307.5H868.08V300.6H868.42V307.3H868.75V299.3H869.09V256.8H869.43V269.2H869.76V301.2H870.10V267.1H870.44V273.9H870.78V283.3H871.11V312.2H871.45V285.1H871.79V307.1H872.12V304.1H872.46V271.6H872.80V279.9H873.14V303.2H873.47V282.7H873.81V301.2H874.15V273.9H874.49V303.6H874.82V276.8H875.16V266.4H875.50V281.9H875.83V252.6H876.17V270.4H876.51V244.5H876.85V254.9H877.18V273.4H877.52V244.3H877.86V273.9H878.20V249.6H878.53V244.2H878.87V263.1H879.21V260.7H879.54V269.5H879.88V271.8H880.22V244.0H880.56V282.2H880.89V293.2H881.23V304.0H881.57V307.1H881.91V283.3H882.24V272.8H882.58V255.8H882.92V306.4H883.25V248.0H883.59V309.5H883.93V301.3H884.27V302.1H884.60V305.9H884.94V304.8H885.28V291.2H885.62V287.3H885.95V248.3H886.29V257.7H886.63V243.3H886.96V266.6H887.30V258.2H887.64V273.1H887.98V251.9H888.31V243.1H888.65V256.7H888.99V262.2H889.33V266.0H889.66V309.6H890.00V288.0H890.34V270.0H890.67V257.0H891.01V278.6H891.35V246.9H891.69V243.7H892.02V271.9H892.36V247.2H892.70V247.0H893.03V258.5H893.37V313.4H893.71V245.2H894.05V272.9H894.38V289.4H894.72V273.3H895.06V289.8H895.40V251.2H895.73V244.7H896.07V248.7H896.41V265.2H896.74V293.9H897.08V263.1H897.42V274.6H897.76V263.6H898.09V211.9H898.43V268.9H898.77V276.0H899.11V238.1H899.44V255.0H899.78V269.6H900.12V263.1H900.45V263.4H900.79V241.0H901.13V255.5H901.47V271.0H901.80V249.6H902.14V241.8H902.48V252.0H902.82V273.8H903.15V242.6H903.49V245.8H903.83V229.8H904.16V264.0H904.50V265.9H904.84V240.3H905.18V265.3H905.51V240.4H905.85V209.7H906.19V264.1H906.53V248.9H906.86V216.3H907.20V250.3H907.54V267.2H907.87V265.3H908.21V269.4H908.55V261.7H908.89V209.7H909.22V210.4H909.56V271.5H909.90V209.7H910.24V209.7H910.57V209.7H910.91V209.7H911.25V209.7H911.58V209.7H911.92V209.7H912.26V209.7H912.60V264.2H912.93V268.3H913.27V209.7H913.61V249.9H913.95V266.1H914.28V267.6H914.62V264.0H914.96V272.7H915.29V265.9H915.63V264.0H915.97V231.6H916.31V243.9H916.64V209.7H916.98V264.6H917.32V234.8H917.65V209.7H917.99V209.7H918.33V210.4H918.67V209.7H919.00V244.2H919.34V269.7H919.68V268.8H920.02V255.6H920.35V264.5H920.69V264.4H921.03V245.0H921.36V276.5H921.70V219.0H922.04V271.4H922.38V276.6H922.71V272.5H923.05V249.0H923.39V265.6H923.73V267.6H924.06V284.2H924.40V300.2Z" fill="#1e3296" stroke="none"/>
<path d="M119.90 300.2v-63.0M123.50 300.2v-28.0M92.50 300.2v-9.0M98.80 300.2v-10.0M219.30 300.2v-34.0M236.20 300.2v-36.0M238.80 300.2v-33.0M237.40 300.2v-30.0M351.30 300.2v-60.0M351.00 300.2v-40.0M350.50 300.2v-32.0M523.70 300.2v-92.0M523.40 300.2v-60.0M574.60 300.2v-63.0M577.70 300.2v-52.0M593.00 300.2v-150.5M593.30 300.2v-120.0M595.30 300.2v-133.5M594.00 300.2v-115.0M594.60 300.2v-114.0M592.70 300.2v-112.0M591.30 300.2v-110.0M590.40 300.2v-88.0M596.60 300.2v-98.0M600.00 300.2v-80.0M797.70 300.2v-93.0M822.40 300.2v-54.0M904.00 300.2v-122.0M905.20 300.2v-111.0M909.50 300.2v-111.0M903.60 300.2v-86.0M913.00 300.2v-83.0M638.00 300.2v-35.0M649.00 300.2v-33.0M674.80 300.2v-36.0M700.30 300.2v-38.0M711.30 300.2v-42.0M140.20 300.2v16.0M138.90 300.2v7.5M256.00 300.2v11.0M311.80 300.2v13.0M202.80 300.2v5.0M250.40 300.2v6.0M299.30 300.2v6.0M341.30 300.2v7.0M352.00 300.2v14.5M356.00 300.2v26.8M362.00 300.2v18.0M367.60 300.2v17.0M375.90 300.2v17.0M378.90 300.2v21.0M384.60 300.2v22.5M393.90 300.2v22.5M391.40 300.2v14.0M411.00 300.2v15.0M419.00 300.2v12.0M426.00 300.2v9.5M437.80 300.2v22.5M440.80 300.2v13.8M453.30 300.2v24.5M482.90 300.2v5.5M536.00 300.2v9.5M540.50 300.2v8.0M552.60 300.2v7.0M555.60 300.2v9.5M563.00 300.2v10.5M576.90 300.2v6.0M601.00 300.2v113.0M604.30 300.2v75.0M603.00 300.2v42.0M602.30 300.2v40.0M607.60 300.2v38.9M612.00 300.2v13.8M618.00 300.2v36.4M630.60 300.2v62.2M635.60 300.2v76.5M640.00 300.2v31.0M643.90 300.2v38.0M681.00 300.2v18.0M689.80 300.2v18.8M695.30 300.2v13.0M712.30 300.2v20.6M722.00 300.2v13.8M741.70 300.2v23.8M743.40 300.2v33.8M747.40 300.2v27.6M759.20 300.2v39.6M764.20 300.2v32.6M777.20 300.2v29.6M785.50 300.2v20.0M789.30 300.2v54.6M787.50 300.2v46.4M793.00 300.2v41.4M797.50 300.2v78.5M803.80 300.2v23.8M808.80 300.2v58.2M816.80 300.2v31.3M823.60 300.2v53.9M830.60 300.2v55.0M832.00 300.2v62.7M837.30 300.2v30.8M839.70 300.2v30.0M842.50 300.2v39.0M853.30 300.2v36.0M863.30 300.2v23.6M873.80 300.2v12.0M880.20 300.2v27.2M883.80 300.2v34.4M886.20 300.2v34.0M891.00 300.2v33.7M894.60 300.2v31.3M902.40 300.2v27.2M905.80 300.2v26.0M910.50 300.2v59.0M910.90 300.2v57.0M911.30 300.2v55.0M921.30 300.2v20.0" stroke="#1e3296" stroke-width="0.75" fill="none"/>
<rect x="522.4" y="208.6" width="2.6" height="70" fill="#1e3296" opacity="0.5"/>
<rect x="909.4" y="300" width="2.4" height="59" fill="#1e3296" opacity="0.5"/>
<rect x="119.3" y="237.2" width="1.3" height="50" fill="#1e3296" opacity="0.45"/>
<line x1="88" x2="924.4" y1="300.3" y2="300.3" stroke="#4668be" stroke-width="1.1"/>
<path d="M88.0,298.4 89.5,298.5 91.0,295.8 92.5,298.9 94.0,296.2 95.5,298.5 97.0,294.3 98.5,293.8 100.0,297.0 101.5,295.6 103.0,299.0 104.5,294.8 106.0,297.3 107.5,294.7 109.0,298.2 110.5,296.3 112.0,298.6 113.5,296.3 115.0,299.0 116.5,291.8 118.0,289.4 119.9,281.5 121.0,288.1 122.5,290.5 124.0,287.3 125.5,293.5 127.0,291.1 128.5,293.3 130.0,289.2 131.5,290.9 133.0,294.9 134.5,291.9 136.0,294.5 137.5,290.3 139.0,294.5 140.5,289.0 142.0,294.5 143.5,291.3 145.0,295.7 146.5,291.9 148.0,295.7 149.5,295.7 151.0,291.7 152.5,295.7 154.0,295.5 155.5,293.0 157.0,296.9 158.5,293.6 160.0,297.6 161.5,294.6 163.0,296.9 164.5,293.7 166.0,297.4 167.5,293.0 169.0,292.6 170.5,295.0 172.0,291.9 173.5,290.1 175.0,293.4 176.5,293.4 178.0,288.2 179.5,293.3 181.0,289.3 182.5,294.8 184.0,294.7 185.5,291.2 187.0,295.5 188.5,292.3 190.0,295.9 191.5,290.2 193.0,294.4 194.5,286.1 196.0,293.4 197.5,290.0 199.0,294.4 200.5,290.4 202.0,295.2 203.5,290.6 205.0,296.0 206.5,290.7 208.0,293.6 209.5,285.2 211.0,292.0 212.5,290.3 214.0,284.9 215.5,288.9 217.0,282.6 218.5,285.7 220.0,280.2 221.5,288.7 223.0,284.6 224.5,292.4 226.0,294.0 227.5,289.3 229.0,291.2 230.5,284.6 232.0,285.4 233.5,283.0 235.0,275.3 236.5,281.4 238.0,275.0 239.5,281.7 241.0,275.9 242.5,287.6 244.0,284.5 245.5,289.7 247.0,285.2 248.5,289.8 250.0,280.3 251.5,288.1 253.0,282.0 254.5,286.8 256.0,280.2 257.5,281.2 259.0,280.0 261.0,265.5 262.0,268.8 263.5,279.3 265.0,276.2 266.5,283.5 268.0,272.3 269.5,275.3 271.0,280.9 272.5,271.4 274.0,283.0 275.5,282.8 277.0,273.9 278.5,285.6 280.0,273.6 281.5,281.0 283.0,275.7 284.5,282.9 286.0,276.6 287.5,282.2 289.0,273.6 290.5,275.9 292.0,282.1 293.5,271.5 295.0,278.3 296.5,278.3 298.0,279.6 299.5,272.5 301.0,281.3 302.5,273.0 304.0,271.8 305.5,281.9 307.0,274.4 308.5,281.8 310.0,275.3 311.5,276.4 313.0,274.9 314.5,282.0 316.0,281.2 317.5,273.2 319.0,277.9 320.5,264.8 322.0,273.5 323.5,273.4 325.0,263.5 326.5,268.2 328.0,278.5 329.5,270.4 331.0,279.1 332.5,270.1 334.0,279.1 335.5,269.8 337.0,278.8 338.5,270.2 340.0,275.4 341.5,270.9 343.0,270.7 344.5,266.2 346.0,277.2 347.5,264.2 349.0,272.8 350.5,260.5 352.0,269.9 353.5,258.4 355.0,271.1 356.5,263.4 358.0,275.7 359.5,267.1 361.0,277.9 362.5,269.1 364.0,276.6 365.5,262.0 367.0,273.7 368.5,267.1 370.0,278.1 371.5,266.5 373.0,275.5 374.5,267.4 376.0,278.9 377.5,271.7 379.0,273.3 380.5,264.0 382.0,276.5 383.5,278.0 385.0,277.5 386.5,268.1 388.0,280.4 389.5,267.8 391.0,276.4 392.5,270.3 394.0,278.4 395.5,271.0 397.0,282.7 398.5,275.5 400.0,271.9 401.5,267.0 403.0,272.9 404.5,264.9 406.0,275.7 407.5,278.9 409.0,273.0 410.5,282.5 412.0,274.9 413.5,283.8 415.0,279.1 416.5,285.9 418.0,277.9 419.5,283.4 421.0,277.6 422.6,224.0 424.0,253.6 425.5,264.5 427.0,285.1 428.5,277.8 430.0,283.9 431.5,283.5 433.0,285.2 434.5,279.2 436.0,270.3 437.6,259.0 439.0,268.2 440.5,273.7 442.0,267.9 443.5,276.9 445.0,267.8 446.5,277.0 448.0,267.0 449.5,276.2 451.0,266.0 452.5,277.8 454.0,280.2 455.5,274.3 457.0,283.4 458.5,276.0 460.0,282.4 461.5,273.3 463.0,281.3 464.5,269.6 466.0,269.7 467.5,278.6 469.0,272.2 470.5,283.1 472.0,272.9 473.5,279.5 475.0,270.2 476.5,278.3 478.0,262.5 479.5,270.9 481.0,254.8 482.5,265.9 484.0,257.3 485.5,271.8 487.0,259.3 488.5,271.6 490.0,274.8 491.5,262.0 493.0,272.5 494.5,264.4 496.0,266.5 497.5,279.8 499.0,279.6 500.5,276.4 502.0,269.5 503.5,259.6 505.2,246.0 506.5,257.3 508.0,266.2 509.5,259.7 511.0,269.8 512.5,259.4 513.8,248.0 515.5,257.7 517.0,272.3 518.5,267.3 520.0,255.1 521.5,268.1 523.0,261.6 524.5,249.2 526.0,253.1 527.5,267.4 529.0,255.5 530.5,269.7 532.0,250.9 533.5,256.2 534.7,243.0 536.5,261.5 538.0,270.6 539.5,268.4 541.0,278.8 542.5,262.5 544.0,257.3 545.5,262.3 547.0,247.6 548.5,243.1 550.0,241.3 551.5,256.8 553.0,243.2 554.5,260.3 556.0,263.8 557.5,246.9 559.0,267.3 560.5,259.0 562.0,268.7 563.5,260.5 565.0,252.3 566.5,265.3 568.0,252.9 569.5,260.6 571.0,261.9 572.5,238.8 574.0,264.8 575.5,252.3 577.0,253.2 578.5,263.7 580.0,253.8 581.5,264.0 583.0,252.8 584.5,254.3 586.0,263.6 587.5,239.9 589.0,248.9 590.5,226.4 592.0,240.5 593.0,229.0 595.0,248.6 596.5,231.4 598.0,247.8 599.6,230.0 601.0,249.0 602.5,231.5 604.0,239.6 605.5,253.4 607.0,243.1 608.5,259.9 610.0,252.1 611.5,267.7 613.0,250.4 614.5,246.5 616.0,238.2 617.5,256.8 619.0,243.4 620.5,262.5 622.0,245.9 623.5,258.8 625.0,241.8 626.5,254.5 628.0,245.6 630.2,234.0 631.0,243.6 632.5,249.6 634.0,253.3 635.5,236.0 637.0,237.4 638.5,250.3 640.0,240.8 641.5,256.6 643.0,245.8 644.5,257.6 646.0,237.5 647.5,251.7 649.0,240.2 650.5,255.6 652.0,244.4 653.5,248.1 655.0,265.9 656.5,252.4 658.0,267.1 659.5,253.3 661.0,267.0 662.5,252.0 664.0,260.9 665.5,241.7 667.0,251.1 668.5,242.6 669.7,231.0 671.5,245.3 673.0,256.8 674.5,241.4 676.0,253.6 677.5,242.6 679.0,241.1 680.5,259.1 682.0,239.9 683.5,259.0 685.0,245.7 686.5,260.4 688.0,241.8 689.5,242.5 691.0,242.0 692.5,254.6 694.0,242.0 695.5,260.9 697.0,239.4 698.5,251.3 700.0,258.4 701.5,245.1 703.0,264.2 704.5,251.7 706.0,260.7 707.5,258.4 709.0,238.0 710.5,253.9 712.0,240.3 713.5,262.0 715.0,250.1 716.5,261.6 718.0,248.5 719.5,257.9 721.0,243.4 722.5,256.3 724.0,242.5 725.5,259.1 727.0,243.2 728.5,262.4 730.0,249.2 731.5,261.5 733.0,262.9 734.5,245.7 736.0,255.6 737.5,236.4 739.0,246.9 740.5,239.6 742.0,242.8 744.2,222.0 745.0,235.9 746.5,222.2 748.0,247.5 749.5,220.8 751.0,244.4 752.5,228.7 754.0,246.6 755.5,219.0 757.0,247.4 758.5,230.4 760.0,231.6 761.5,247.2 763.0,230.8 764.5,247.2 766.0,248.8 767.5,220.3 769.0,250.0 770.5,228.3 772.0,242.9 773.5,222.7 775.0,225.0 776.5,239.0 778.0,229.9 779.5,244.8 781.0,234.3 782.5,251.9 784.0,236.7 785.5,240.4 787.0,256.8 788.5,234.5 790.0,234.8 791.5,245.8 793.0,230.2 794.5,259.1 796.0,237.9 797.5,249.8 799.0,234.2 800.5,231.1 802.0,229.4 803.5,244.6 805.0,223.4 806.5,243.3 808.0,217.2 809.5,223.2 811.0,243.3 812.5,226.1 814.0,242.5 815.5,225.7 817.0,241.9 818.5,227.1 820.0,245.3 821.5,222.2 823.0,238.5 824.5,242.9 826.0,229.3 827.5,248.5 829.0,229.6 830.5,246.7 832.0,219.0 833.5,241.1 835.0,229.8 836.5,249.9 838.0,248.4 839.5,233.8 841.0,246.5 842.5,230.8 844.0,249.1 845.5,223.7 847.0,239.3 848.5,217.5 850.0,232.4 851.5,216.2 853.0,240.3 854.5,221.6 856.0,241.4 857.5,219.2 859.0,236.3 860.5,220.2 862.6,203.0 863.5,219.0 865.0,203.7 866.5,208.0 868.0,240.4 869.5,225.3 871.0,237.2 872.5,211.5 874.0,233.8 875.5,215.9 877.0,231.4 878.5,211.0 880.0,234.2 881.5,220.0 883.0,245.3 884.5,227.3 886.0,247.7 887.5,232.3 889.0,246.0 890.5,213.5 892.0,226.0 893.5,243.3 895.0,215.4 896.5,228.7 898.0,196.1 899.5,189.6 901.0,212.5 902.5,205.5 903.3,195.0 905.5,212.0 907.0,221.3 908.5,202.6 910.0,220.0 911.5,217.8 913.0,181.1 914.5,196.0 915.5,168.5 917.5,214.0 919.0,192.7 920.5,223.1 922.0,193.5 923.5,215.1" stroke="#db5e5e" stroke-width="3.2" fill="none" stroke-linejoin="round" stroke-linecap="round"/>
<g stroke="#4668be" stroke-width="1.7" fill="none">
<line x1="87.6" x2="87.6" y1="128.7" y2="471.79999999999995"/>
<line x1="924.4" x2="924.4" y1="128.7" y2="471.79999999999995"/>
<line x1="83.6" x2="87.6" y1="129.60" y2="129.60"/>
<line x1="83.6" x2="87.6" y1="186.48" y2="186.48"/>
<line x1="83.6" x2="87.6" y1="243.37" y2="243.37"/>
<line x1="83.6" x2="87.6" y1="300.25" y2="300.25"/>
<line x1="83.6" x2="87.6" y1="357.13" y2="357.13"/>
<line x1="83.6" x2="87.6" y1="414.02" y2="414.02"/>
<line x1="83.6" x2="87.6" y1="470.90" y2="470.90"/>
<line x1="924.4" x2="928.8" y1="129.60" y2="129.60"/>
<line x1="924.4" x2="928.8" y1="172.26" y2="172.26"/>
<line x1="924.4" x2="928.8" y1="214.92" y2="214.92"/>
<line x1="924.4" x2="928.8" y1="257.59" y2="257.59"/>
<line x1="924.4" x2="928.8" y1="300.25" y2="300.25"/>
<line x1="924.4" x2="928.8" y1="342.91" y2="342.91"/>
<line x1="924.4" x2="928.8" y1="385.57" y2="385.57"/>
<line x1="924.4" x2="928.8" y1="428.24" y2="428.24"/>
<line x1="924.4" x2="928.8" y1="470.90" y2="470.90"/>
</g>
<g font-family="'Liberation Sans', sans-serif" font-size="13.5" fill="#3454a8">
<text x="75.8" y="134.10" text-anchor="end">300.00</text>
<text x="75.8" y="190.98" text-anchor="end">200.00</text>
<text x="75.8" y="247.87" text-anchor="end">100.00</text>
<text x="75.8" y="304.75" text-anchor="end">0.00</text>
<text x="75.8" y="361.63" text-anchor="end">-100.00</text>
<text x="75.8" y="418.52" text-anchor="end">-200.00</text>
<text x="75.8" y="475.40" text-anchor="end">-300.00</text>
<text x="936.8" y="134.10">40.00%</text>
<text x="936.8" y="176.76">30.00%</text>
<text x="936.8" y="219.42">20.00%</text>
<text x="936.8" y="262.09">10.00%</text>
<text x="936.8" y="304.75">0.00%</text>
<text x="936.8" y="347.41">-10.00%</text>
<text x="936.8" y="390.07">-20.00%</text>
<text x="936.8" y="432.74">-30.00%</text>
<text x="936.8" y="475.40">-40.00%</text>
<text x="90.6" y="487.8" font-size="13.9" text-anchor="end" transform="rotate(-45 90.6 487.8)">2014-11-17</text>
<text x="172.4" y="487.8" font-size="13.9" text-anchor="end" transform="rotate(-45 172.4 487.8)">2015-11-17</text>
<text x="254.3" y="487.8" font-size="13.9" text-anchor="end" transform="rotate(-45 254.3 487.8)">2016-11-17</text>
<text x="336.1" y="487.8" font-size="13.9" text-anchor="end" transform="rotate(-45 336.1 487.8)">2017-11-17</text>
<text x="418.0" y="487.8" font-size="13.9" text-anchor="end" transform="rotate(-45 418.0 487.8)">2018-11-17</text>
<text x="499.8" y="487.8" font-size="13.9" text-anchor="end" transform="rotate(-45 499.8 487.8)">2019-11-17</text>
<text x="581.6" y="487.8" font-size="13.9" text-anchor="end" transform="rotate(-45 581.6 487.8)">2020-11-17</text>
<text x="663.5" y="487.8" font-size="13.9" text-anchor="end" transform="rotate(-45 663.5 487.8)">2021-11-17</text>
<text x="745.3" y="487.8" font-size="13.9" text-anchor="end" transform="rotate(-45 745.3 487.8)">2022-11-17</text>
<text x="827.2" y="487.8" font-size="13.9" text-anchor="end" transform="rotate(-45 827.2 487.8)">2023-11-17</text>
<text x="909.0" y="487.8" font-size="13.9" text-anchor="end" transform="rotate(-45 909.0 487.8)">2024-11-17</text>
</g>
<rect x="237" y="560.2" width="32.5" height="6.4" fill="#1e3296"/>
<line x1="490.5" x2="522" y1="563.4" y2="563.4" stroke="#db5e5e" stroke-width="4" stroke-linecap="round"/>
</svg>
<div class="leg" style="left:272.5px">港股通成交净买入（亿港元）</div>
<div class="leg" style="left:524.8px">港股通成交占大市总成交估算比例（右轴）</div>
<div class="rule" style="top:604px;height:2px"></div>
<div class="foot">资料来源：<span style="letter-spacing:1.2px">Wind</span>，申万宏源研究；趋势研究剔除圣诞节、元旦等海外投资者假期因素</div>
</body></html>
